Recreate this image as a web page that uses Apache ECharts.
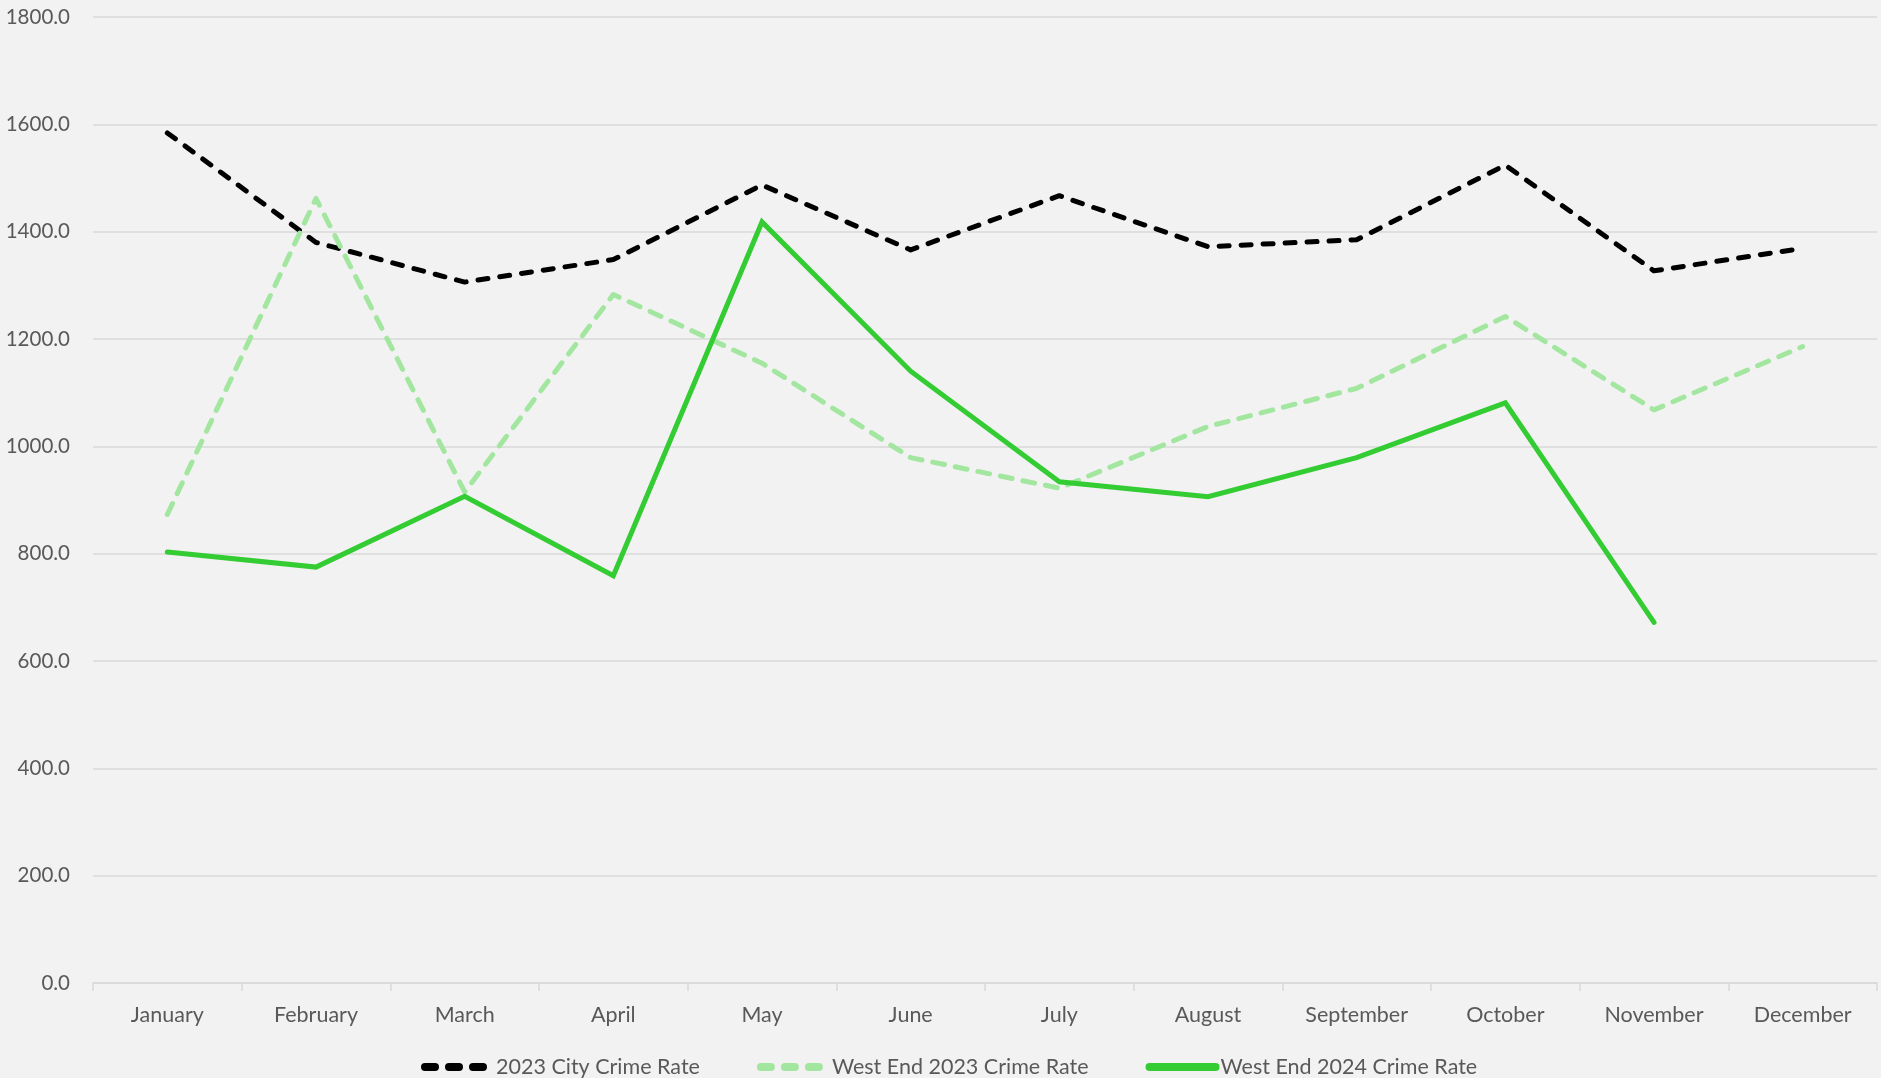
<!DOCTYPE html>
<html>
<head>
	<meta charset="utf-8">
	<title>Crime Rate</title>
	<script src="https://cdn.jsdelivr.net/npm/echarts@6.0.0/dist/echarts.min.js"></script>
	<style>
		html, body { margin: 0; padding: 0; background: #f2f2f2; }
		#main { width: 1881px; height: 1078px; }
	</style>
</head>
<body>
<div id="main"></div>
<script type="text/javascript">
// 数据
var months = ["January", "February", "March", "April", "May", "June",
	"July", "August", "September", "October", "November", "December"];
var yTicks = [0, 200, 400, 600, 800, 1000, 1200, 1400, 1600, 1800];
var city2023 = [1584, 1380, 1306, 1348, 1487, 1366, 1467, 1372, 1385, 1524, 1327, 1369];
var westEnd2023 = [873, 1462, 915, 1283, 1155, 979, 922, 1037, 1108, 1242, 1068, 1186];
var westEnd2024 = [803, 775, 907, 759, 1418, 1140, 934, 906, 979, 1081, 672, null];

var labelFont = 'Lato';
var labelColor = '#595959';

var myChart = echarts.init(document.getElementById('main'));

var option = {
	backgroundColor: '#f2f2f2',
	textStyle: { fontFamily: labelFont },
	grid: {
		left: 93,
		right: 4,
		top: 17,
		bottom: 95,
		containLabel: false
	},
	// 图例
	legend: {
		top: 1051,
		left: 416,
		itemWidth: 66,
		itemHeight: 26,
		itemGap: 57,
		textStyle: { color: labelColor, fontSize: 21.5, fontFamily: labelFont },
		data: [
			{ name: '2023 City Crime Rate', itemStyle: { opacity: 0 },
				lineStyle: { color: '#000000', width: 8, type: [10, 14], cap: 'round' } },
			{ name: 'West End 2023 Crime Rate', itemStyle: { opacity: 0 },
				lineStyle: { color: '#a2e6a0', width: 8, type: [10, 14], cap: 'round' } },
			{ name: 'West End 2024 Crime Rate', itemStyle: { opacity: 0 },
				lineStyle: { color: '#33cc33', width: 8, type: 'solid', cap: 'round' } }
		]
	},
	xAxis: {
		type: 'category',
		data: months,
		boundaryGap: true,
		axisLine: { lineStyle: { color: '#d9d9d9', width: 1.5 } },
		axisTick: { show: true, alignWithLabel: false, length: 8, lineStyle: { color: '#d9d9d9', width: 1.5 } },
		axisLabel: { color: labelColor, fontSize: 21.5, margin: 21, fontFamily: labelFont }
	},
	yAxis: {
		type: 'value',
		min: yTicks[0],
		max: yTicks[yTicks.length - 1],
		interval: yTicks[1] - yTicks[0],
		axisLine: { show: false },
		axisTick: { show: false },
		splitLine: { lineStyle: { color: '#d9d9d9', width: 1.5 } },
		axisLabel: {
			color: labelColor, fontSize: 20.5, margin: 23, fontFamily: labelFont,
			formatter: function (v) { return v.toFixed(1); }
		}
	},
	series: [
		{
			name: '2023 City Crime Rate',
			type: 'line',
			data: city2023,
			symbol: 'none',
			lineStyle: { color: '#000000', width: 5, type: [10, 12], cap: 'round', join: 'round' },
			itemStyle: { color: '#000000' }
		},
		{
			name: 'West End 2023 Crime Rate',
			type: 'line',
			data: westEnd2023,
			symbol: 'none',
			lineStyle: { color: '#a2e6a0', width: 5, type: [12, 11], cap: 'round', join: 'round' },
			itemStyle: { color: '#a2e6a0' }
		},
		{
			name: 'West End 2024 Crime Rate',
			type: 'line',
			data: westEnd2024,
			symbol: 'none',
			lineStyle: { color: '#33cc33', width: 5, cap: 'round', join: 'miter' },
			itemStyle: { color: '#33cc33' }
		}
	]
};

myChart.setOption(option);
</script>
</body>
</html>
